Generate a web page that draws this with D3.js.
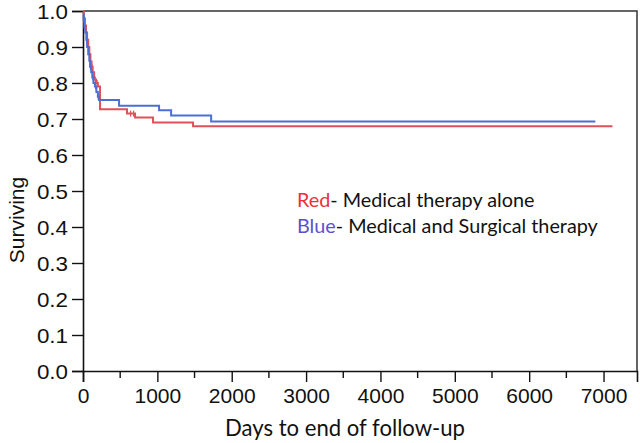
<!DOCTYPE html>
<html>
<head>
<meta charset="utf-8">
<script src="https://cdn.jsdelivr.net/npm/d3@7/dist/d3.min.js"></script>
<style>
  html, body { margin: 0; padding: 0; background: #fff; }
  svg { display: block; }
</style>
</head>
<body>
<svg id="chart" width="640" height="443"></svg>
<script>
// ---- data ----
const redDays = [0, 10, 25, 40, 55, 70, 85, 100, 115, 130, 150, 175, 200, 229, 592, 700, 942, 1480, 7120];
const redSurv = [1.0, 0.98, 0.96, 0.94, 0.92, 0.90, 0.88, 0.86, 0.845, 0.83, 0.81, 0.80, 0.79, 0.727, 0.715, 0.704, 0.690, 0.680, 0.680];
const blueDays = [0, 10, 20, 30, 45, 55, 70, 85, 95, 110, 125, 140, 160, 180, 200, 215, 485, 1023, 1185, 1723, 6890];
const blueSurv = [0.99, 0.975, 0.955, 0.94, 0.92, 0.90, 0.88, 0.862, 0.845, 0.83, 0.815, 0.80, 0.79, 0.775, 0.762, 0.753, 0.737, 0.724, 0.710, 0.693, 0.693];
const redCensor = [60, 120, 165, 190, 640, 680];
const blueCensor = [15, 50, 100, 135, 170, 205];
const xTicks = [0, 1000, 2000, 3000, 4000, 5000, 6000, 7000];
const xMinorTicks = [500, 1500, 2500, 3500, 4500, 5500, 6500];
const yTicks = [0, 0.1, 0.2, 0.3, 0.4, 0.5, 0.6, 0.7, 0.8, 0.9, 1.0];
const legendItems = [
  { key: "Red", rest: "- Medical therapy alone", color: "#e8323c" },
  { key: "Blue", rest: "- Medical and Surgical therapy", color: "#5a50c8" }
];

// ---- layout ----
const svg = d3.select("#chart");
const x = d3.scaleLinear().domain([0, 7450]).range([83, 637]);
const y = d3.scaleLinear().domain([0, 1]).range([371, 11]);

// frame (top & right)
svg.append("path")
  .attr("d", `M${x(0)},${y(1)}H${x.range()[1]}V${y(0)}`)
  .attr("fill", "none").attr("stroke", "#333").attr("stroke-width", 1.5);

// y axis
const yAxis = svg.append("g").attr("transform", `translate(${x(0)},0)`)
  .call(d3.axisLeft(y).tickValues(yTicks).tickFormat(d3.format(".1f")).tickSize(11).tickPadding(3));
yAxis.select(".domain").attr("stroke", "#111").attr("stroke-width", 1.6);
yAxis.selectAll(".tick line").attr("stroke", "#111").attr("stroke-width", 1.4);
yAxis.selectAll("text").attr("font-family", "Liberation Sans, Arial, sans-serif")
  .attr("font-size", 20).attr("fill", "#111").attr("dy", "0.36em")
  .attr("transform", "scale(1.12,1)").attr("x", -15 / 1.12);

// x axis
const xAxis = svg.append("g").attr("transform", `translate(0,${y(0)})`)
  .call(d3.axisBottom(x).tickValues(xTicks).tickFormat(d3.format("d")).tickSize(11).tickPadding(6));
xAxis.select(".domain").attr("stroke", "#111").attr("stroke-width", 1.6);
xAxis.selectAll(".tick line").attr("stroke", "#111").attr("stroke-width", 1.4);
xAxis.selectAll("text").attr("font-family", "Liberation Sans, Arial, sans-serif")
  .attr("font-size", 21).attr("fill", "#111");
svg.append("g").attr("transform", `translate(0,${y(0)})`)
  .selectAll("line").data(xMinorTicks).join("line")
  .attr("x1", d => x(d)).attr("x2", d => x(d)).attr("y1", 0).attr("y2", 7)
  .attr("stroke", "#111").attr("stroke-width", 1.4);

// axis titles
svg.append("text").attr("x", 345).attr("y", 436).attr("text-anchor", "middle")
  .attr("font-family", "Lato, 'Open Sans', sans-serif").attr("font-size", 24).attr("fill", "#111")
  .attr("textLength", 240).attr("lengthAdjust", "spacingAndGlyphs")
  .text("Days to end of follow-up");
svg.append("text").attr("transform", "translate(24,220) rotate(-90)").attr("text-anchor", "middle")
  .attr("font-family", "Liberation Sans, Arial, sans-serif").attr("font-size", 21).attr("fill", "#111")
  .text("Surviving");

// curves
const line = d3.line().x(d => x(d[0])).y(d => y(d[1])).curve(d3.curveStepAfter);
const series = [
  { days: redDays, surv: redSurv, censor: redCensor, color: "#e0505a" },
  { days: blueDays, surv: blueSurv, censor: blueCensor, color: "#4a70d8" }
];
function survAt(s, t) {
  let v = s.surv[0];
  for (let i = 0; i < s.days.length; i++) if (s.days[i] <= t) v = s.surv[i];
  return v;
}
series.forEach(s => {
  const pts = s.days.map((d, i) => [d, s.surv[i]]);
  svg.append("path").datum(pts).attr("d", line)
    .attr("fill", "none").attr("stroke", s.color).attr("stroke-width", 2);
  svg.append("g").selectAll("line").data(s.censor).join("line")
    .attr("x1", d => x(d)).attr("x2", d => x(d))
    .attr("y1", d => y(survAt(s, d)) - 3).attr("y2", d => y(survAt(s, d)) + 3)
    .attr("stroke", s.color).attr("stroke-width", 1.2);
});

// legend
const lg = svg.append("g");
legendItems.forEach((it, i) => {
  const t = lg.append("text").attr("x", 297).attr("y", 207 + i * 26)
    .attr("font-family", "Lato, 'Open Sans', sans-serif").attr("font-size", 19).attr("fill", "#111");
  t.append("tspan").attr("fill", it.color).text(it.key);
  t.append("tspan").text(it.rest);
});
// fit legend width to reference (~301px for the longer line)
const w = lg.selectAll("text").nodes()[1].getComputedTextLength();
if (w > 0) {
  const fs = 19 * 301 / w;
  lg.selectAll("text").attr("font-size", fs);
}
</script>
</body>
</html>
